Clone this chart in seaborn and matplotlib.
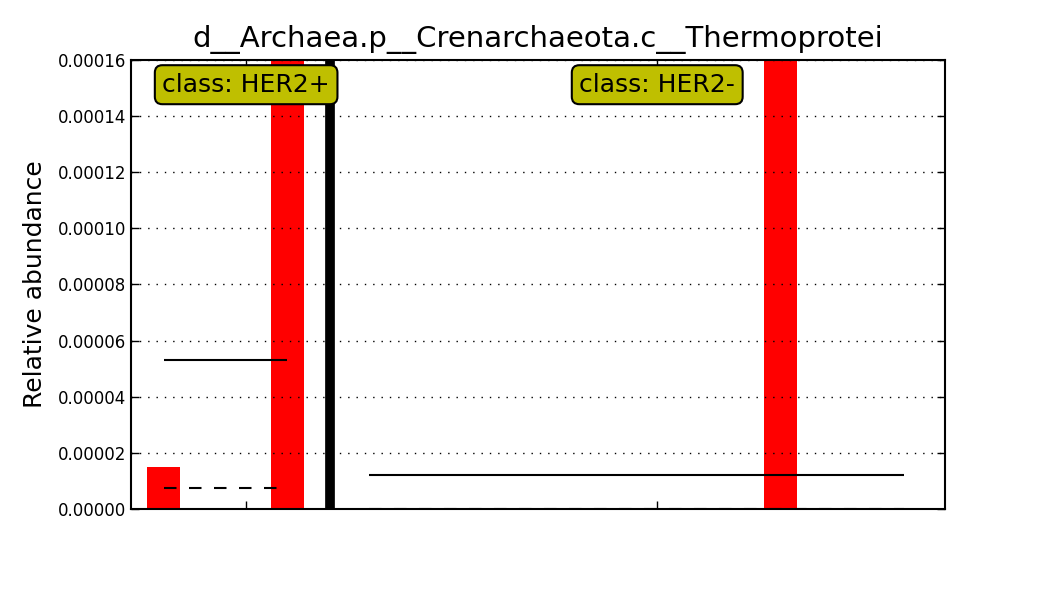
import numpy as np
import pandas as pd
import matplotlib
matplotlib.use("Agg")
import matplotlib.pyplot as plt
import matplotlib.transforms as mtransforms
import seaborn as sns

# feature and classes
title = "d__Archaea.p__Crenarchaeota.c__Thermoprotei"
classes = ["HER2+", "HER2-"]

# per-sample relative abundances, in plotting order
her2_pos = [1.5e-05, 0.0, 0.0, 1.98e-04]
her2_neg = [0.0, 0.0, 0.0, 0.0, 0.0, 0.0, 0.0, 0.0, 0.0, 0.0, 1.70e-04, 0.0, 0.0, 0.0]

yticks = [0.0, 0.00002, 0.00004, 0.00006, 0.00008, 0.00010, 0.00012, 0.00014, 0.00016]

sns.set_style("ticks")
plt.rcParams['font.family'] = ['DejaVu Sans']
plt.rcParams['text.color'] = 'black'
plt.rcParams['axes.labelcolor'] = 'black'

# positions: class 1 samples, one empty slot for the separator, class 2 samples
pos1 = list(range(len(her2_pos)))
sep = len(her2_pos)
pos2 = list(range(sep + 1, sep + 1 + len(her2_neg)))
df = pd.DataFrame({'pos': pos1 + pos2, 'val': her2_pos + her2_neg})

fig = plt.figure(figsize=(10.5, 6), dpi=100)
ax = fig.add_axes([0.1248, 0.1517, 0.7752, 0.7483])

sns.barplot(data=df, x='pos', y='val', native_scale=True, color='red', saturation=1,
            width=0.8, errorbar=None, linewidth=0, ax=ax)

# mean (solid) and median (dashed) per class
for p, v in [(pos1, her2_pos), (pos2, her2_neg)]:
    m = np.mean(v)
    md = np.median(v)
    ax.plot([p[0], p[-1]], [m, m], color='black', lw=1.5, solid_capstyle='butt')
    ax.plot([p[0], p[-1]], [md, md], color='black', lw=1.5, linestyle=(0, (6, 6)))

ax.axvline(sep + 0.04, color='black', lw=7)

ax.set_xlim(-0.8, 19.0)
ax.set_ylim(0, 0.00016)
ax.set_yticks(yticks)
ax.set_yticklabels(["%.5f" % t for t in yticks])
centers = [np.mean(pos1) + 0.5, np.mean(pos2) + 0.5]
ax.set_xticks(centers)
ax.set_xticklabels([])
ax.set_xlabel("")
ax.set_ylabel("Relative abundance", fontsize=18, color='black', labelpad=8)
ax.set_title(title, fontsize=21, color='black', pad=9)

ax.yaxis.grid(True, color='black', linestyle=(0, (1, 5)), lw=1)
ax.xaxis.grid(False)
ax.set_axisbelow(False)
ax.tick_params(direction='in', top=True, right=True, length=6, width=1, labelsize=12, colors='black')
for s in ax.spines.values():
    s.set_linewidth(1.5)
    s.set_color('black')

trans = mtransforms.blended_transform_factory(ax.transData, ax.transAxes)
for c, cl in zip(centers, classes):
    ax.text(c, 0.945, "class: " + cl, transform=trans, ha='center', va='center', fontsize=18,
            color='black',
            bbox=dict(boxstyle='round,pad=0.3', facecolor=(0.75, 0.75, 0), edgecolor='black', lw=1.5))

fig.savefig("out.png", dpi=100)
